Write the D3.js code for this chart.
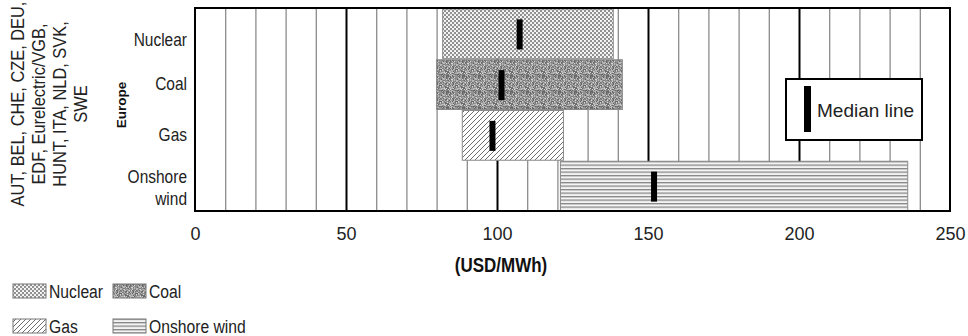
<!DOCTYPE html>
<html>
<head>
<meta charset="utf-8">
<script src="https://cdn.jsdelivr.net/npm/d3@7"></script>
<style>
  body { margin: 0; background: #fff; }
  svg { display: block; font-family: "Liberation Sans", Arial, sans-serif; }
</style>
</head>
<body>
<svg id="chart"></svg>
<script>
// cost ranges per technology, USD/MWh
const categories = ['Nuclear', 'Coal', 'Gas', 'Onshore wind'];
const lowValues = [82, 80, 88.5, 121];
const highValues = [138.5, 141.5, 122, 236];
const medianValues = [107.5, 101.5, 98.5, 152];
const tickValues = [0, 50, 100, 150, 200, 250];
const regionLabel = 'Europe';
const sourceLines = ['AUT, BEL, CHE, CZE, DEU,', 'EDF, Eurelectric/VGB,', 'HUNT, ITA, NLD, SVK,', 'SWE'];
const patternIds = ['pNuclear', 'pCoal', 'pGas', 'pWind'];

const width = 968, height = 336;
const margin = { left: 195, right: 18, top: 8, bottom: 125 };
const stretch = 1.15; // text in the original is drawn a bit tall

const svg = d3.select('#chart').attr('width', width).attr('height', height);
const defs = svg.append('defs');

// small integer hash for fixed textures
const hash = (i, j) => {
  let h = (i * 374761393 + j * 668265263) | 0;
  h = Math.imul(h ^ (h >>> 13), 1274126177);
  return ((h ^ (h >>> 16)) >>> 0) % 100;
};

// nuclear: fine crosshatch with white dots
const pn = defs.append('pattern').attr('id', 'pNuclear').attr('patternUnits', 'userSpaceOnUse').attr('width', 4).attr('height', 4);
pn.append('rect').attr('width', 4).attr('height', 4).attr('fill', '#a4a4a4');
pn.append('circle').attr('cx', 1).attr('cy', 1).attr('r', 1.05).attr('fill', '#fff');
pn.append('circle').attr('cx', 3).attr('cy', 3).attr('r', 1.05).attr('fill', '#fff');
pn.append('rect').attr('x', 2.5).attr('y', 0.5).attr('width', 1).attr('height', 1).attr('fill', '#5a5a5a');
pn.append('rect').attr('x', 0.5).attr('y', 2.5).attr('width', 1).attr('height', 1).attr('fill', '#5a5a5a');

// coal: speckled texture from a fixed tile
const tile = 16;
const pc = defs.append('pattern').attr('id', 'pCoal').attr('patternUnits', 'userSpaceOnUse').attr('width', tile).attr('height', tile);
pc.append('rect').attr('width', tile).attr('height', tile).attr('fill', '#929292');
for (let i = 0; i < tile; i++) {
  for (let j = 0; j < tile; j++) {
    const h = hash(i, j);
    let c = null;
    if (h < 18) c = '#666';
    else if (h < 32) c = '#7a7a7a';
    else if (h < 56) c = '#b8b8b8';
    else if (h < 66) c = '#d6d6d6';
    if (c) pc.append('rect').attr('x', i).attr('y', j).attr('width', 1).attr('height', 1).attr('fill', c);
  }
}

// gas: diagonal hatching
const pg = defs.append('pattern').attr('id', 'pGas').attr('patternUnits', 'userSpaceOnUse').attr('width', 5).attr('height', 5);
pg.append('rect').attr('width', 5).attr('height', 5).attr('fill', '#fff');
pg.append('path').attr('d', 'M0,5 L5,0 M-1,1 L1,-1 M4,6 L6,4').attr('stroke', '#6e6e6e').attr('stroke-width', 1);

// onshore wind: horizontal lines
const pw = defs.append('pattern').attr('id', 'pWind').attr('patternUnits', 'userSpaceOnUse').attr('width', 6).attr('height', 3.5);
pw.append('rect').attr('width', 6).attr('height', 3.5).attr('fill', '#f4f4f4');
pw.append('rect').attr('y', 0).attr('width', 6).attr('height', 1.3).attr('fill', '#858585');

const x = d3.scaleLinear().domain([0, 250]).range([margin.left, width - margin.right]);
const y = d3.scaleBand().domain(categories).range([margin.top, height - margin.bottom]).padding(0);
const plotBottom = height - margin.bottom;

// gridlines
const minorTicks = d3.range(10, 250, 10).filter(v => v % 50 !== 0);
const majorTicks = d3.range(50, 250, 50);
svg.append('g').attr('transform', `translate(0,${plotBottom})`)
  .call(d3.axisBottom(x).tickValues(minorTicks).tickSize(-(plotBottom - margin.top)).tickFormat(''))
  .call(g => g.select('.domain').remove())
  .call(g => g.selectAll('line').attr('stroke', '#8c8c8c').attr('stroke-width', 1.3));
svg.append('g').attr('transform', `translate(0,${plotBottom})`)
  .call(d3.axisBottom(x).tickValues(majorTicks).tickSize(-(plotBottom - margin.top)).tickFormat(''))
  .call(g => g.select('.domain').remove())
  .call(g => g.selectAll('line').attr('stroke', '#000').attr('stroke-width', 2));

// range bars
svg.append('g').selectAll('rect').data(categories).join('rect')
  .attr('x', (d, i) => x(lowValues[i]))
  .attr('y', d => y(d) + 1)
  .attr('width', (d, i) => x(highValues[i]) - x(lowValues[i]))
  .attr('height', y.bandwidth() - 1)
  .attr('fill', (d, i) => `url(#${patternIds[i]})`)
  .attr('stroke', '#8a8a8a').attr('stroke-width', 1);

// median marks
svg.append('g').selectAll('rect').data(categories).join('rect')
  .attr('x', (d, i) => x(medianValues[i]) - 3)
  .attr('y', d => y(d) + y.bandwidth() / 2 - 14)
  .attr('width', 6).attr('height', 30).attr('fill', '#000');

// frame
svg.append('rect').attr('x', margin.left).attr('y', margin.top)
  .attr('width', width - margin.right - margin.left).attr('height', plotBottom - margin.top)
  .attr('fill', 'none').attr('stroke', '#000').attr('stroke-width', 2);

// horizontal text drawn slightly tall
const tallText = (parent, tx, ty, size, str, opts = {}) => {
  const t = parent.append('text')
    .attr('transform', `translate(${tx},${ty}) scale(1,${opts.sy || stretch})`)
    .attr('text-anchor', opts.anchor || 'start').attr('dominant-baseline', 'central')
    .style('font-size', size + 'px').attr('fill', opts.fill || '#222').text(str);
  if (opts.bold) t.style('font-weight', 'bold');
  return t;
};

// median legend box
const mb = svg.append('g');
mb.append('rect').attr('x', 786).attr('y', 79).attr('width', 136).attr('height', 61)
  .attr('fill', '#fff').attr('stroke', '#000').attr('stroke-width', 2);
mb.append('rect').attr('x', 804).attr('y', 86).attr('width', 7).attr('height', 46).attr('fill', '#000');
tallText(mb, 817, 110, 19, 'Median line', { sy: 1 });

// x axis labels
svg.append('g').attr('transform', `translate(0,${plotBottom})`)
  .call(d3.axisBottom(x).tickValues(tickValues).tickSize(0).tickPadding(16))
  .call(g => g.select('.domain').remove())
  .call(g => g.selectAll('text').style('font-size', '18px').style('font-family', '"Liberation Sans", Arial, sans-serif').attr('fill', '#222'));

tallText(svg, 501, 265, 17, '(USD/MWh)', { anchor: 'middle', bold: true, fill: '#111' });

// category labels
categories.forEach((c, i) => {
  const words = c.split(' ');
  const cy = y(c) + y.bandwidth() / 2 + (i === 0 ? 7 : 0) + (i === 3 ? 3 : 0);
  words.forEach((w, k) => {
    tallText(svg, 187, cy + (k - (words.length - 1) / 2) * 22, 15.5, w, { anchor: 'end' });
  });
});

// region label
svg.append('text').attr('transform', 'translate(121,105) rotate(-90)')
  .attr('text-anchor', 'middle').attr('dominant-baseline', 'central')
  .style('font-size', '13.5px').style('font-weight', 'bold').attr('fill', '#111').text(regionLabel);

// source list, rotated
sourceLines.forEach((s, i) => {
  svg.append('text').attr('transform', `translate(${18 + i * 20.7},104) rotate(-90) scale(1,${stretch})`)
    .attr('text-anchor', 'middle').attr('dominant-baseline', 'central')
    .style('font-size', '16.4px').attr('fill', '#222').text(s);
});

// bottom legend
const legendPos = [[13, 284], [113, 284], [13, 319], [113, 319]];
const lg = svg.append('g');
categories.forEach((c, i) => {
  const [lx, ly] = legendPos[i];
  lg.append('rect').attr('x', lx).attr('y', ly).attr('width', 33).attr('height', 14)
    .attr('fill', `url(#${patternIds[i]})`).attr('stroke', '#777').attr('stroke-width', 1);
  tallText(lg, lx + 36, ly + 8, 15.7, c);
});
</script>
</body>
</html>
